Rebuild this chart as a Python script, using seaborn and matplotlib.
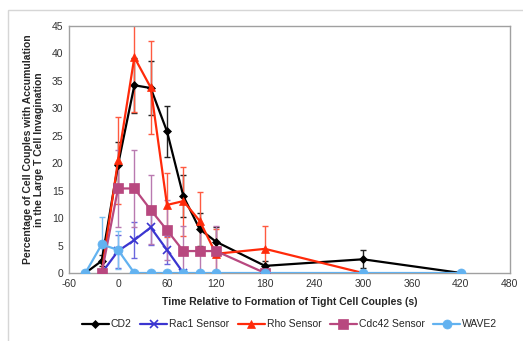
import matplotlib
matplotlib.use("Agg")
import matplotlib.pyplot as plt
import seaborn as sns
import pandas as pd
from matplotlib.patches import Rectangle

# Time points (s) and accumulation percentages per probe
cd2_t = [-40, -20, 0, 20, 40, 60, 80, 100, 120, 180, 300, 420]
cd2_v = [0, 2.2, 19.7, 34.2, 33.7, 25.8, 14.0, 8.0, 5.7, 1.3, 2.5, 0]
cd2_e = [0, 1.0, 4.2, 5.0, 5.0, 4.7, 3.8, 3.0, 2.7, 0.8, 1.6, 0]

rac1_t = [-20, 0, 20, 40, 60, 80]
rac1_v = [0, 4.0, 6.0, 8.3, 4.2, 0]
rac1_e = [0, 3.0, 3.3, 3.2, 2.5, 0]

rho_t = [-20, 0, 20, 40, 60, 80, 100, 120, 180, 300]
rho_v = [0, 20.5, 39.3, 33.8, 12.4, 13.1, 9.5, 3.5, 4.4, 0]
rho_e = [0, 7.9, 10.0, 8.5, 5.8, 6.3, 5.3, 4.5, 4.2, 0]

cdc42_t = [-20, 0, 20, 40, 60, 80, 100, 120, 180]
cdc42_v = [0, 15.4, 15.4, 11.5, 7.8, 4.0, 4.0, 4.0, 0]
cdc42_e = [0, 7.0, 7.0, 6.3, 5.5, 4.5, 4.5, 4.5, 0]

wave2_t = [-40, -20, 0, 20, 40, 60, 80, 100, 120, 180, 300, 420]
wave2_v = [0, 5.2, 4.2, 0, 0, 0, 0, 0, 0, 0, 0, 0]
wave2_e = [0, 5.0, 3.5, 0, 0, 0, 0, 0, 0, 0, 0, 0]

series_names = ["CD2", "Rac1 Sensor", "Rho Sensor", "Cdc42 Sensor", "WAVE2"]
x_ticks = [-60, 0, 60, 120, 180, 240, 300, 360, 420, 480]
y_ticks = [0, 5, 10, 15, 20, 25, 30, 35, 40, 45]

series = [
    (cd2_t, cd2_v, cd2_e),
    (rac1_t, rac1_v, rac1_e),
    (rho_t, rho_v, rho_e),
    (cdc42_t, cdc42_v, cdc42_e),
    (wave2_t, wave2_v, wave2_e),
]
colors = ["#000000", "#3b35d0", "#ff2a0a", "#b8487f", "#62b2f0"]
err_colors = ["#222222", "#6a66dd", "#ff5a40", "#b97ab0", "#7cc0f2"]
markers = ["D", "x", "^", "s", "o"]
msizes = [4.5, 5.5, 6.0, 6.5, 6.5]

frames = []
for name, (t, v, e) in zip(series_names, series):
    frames.append(pd.DataFrame({"time": t, "pct": v, "err": e, "series": name}))
df = pd.concat(frames, ignore_index=True)

sns.set_theme(style="white")
plt.rcParams["font.family"] = ["Liberation Sans", "DejaVu Sans"]
plt.rcParams["axes.unicode_minus"] = False

fig = plt.figure(figsize=(5.23, 3.41), dpi=100)
ax = fig.add_axes([0.132, 0.1994, 0.843, 0.7244])

# Outer chart-area border
fig.patches.append(Rectangle((8 / 523, -0.05), 1.1, 1 - 10 / 341 + 0.05,
                             transform=fig.transFigure, fill=False,
                             edgecolor="#d6d6d6", linewidth=1.0, zorder=0))

for i, name in enumerate(series_names):
    sub = df[df["series"] == name]
    ax.errorbar(sub["time"], sub["pct"], yerr=sub["err"], fmt="none",
                ecolor=err_colors[i], elinewidth=1.0, capsize=2.5,
                capthick=1.0, zorder=2 + i * 0.1)

for i, name in enumerate(series_names):
    sub = df[df["series"] == name]
    sns.lineplot(data=sub, x="time", y="pct", ax=ax, color=colors[i],
                 marker=markers[i], markersize=msizes[i],
                 markeredgecolor=colors[i], markeredgewidth=1.2 if markers[i] == "x" else 0.5,
                 linewidth=1.6, label=name, zorder=3 + i * 0.1,
                 errorbar=None, sort=False)

ax.set_xlim(-60, 480)
ax.set_ylim(0, 45)
ax.set_xticks(x_ticks)
ax.set_yticks(y_ticks)
ax.tick_params(axis="both", labelsize=7.5, length=0, pad=4, colors="#333333")
for sp in ax.spines.values():
    sp.set_color("#a0a0a0")
    sp.set_linewidth(1.0)

ax.set_xlabel("Time Relative to Formation of Tight Cell Couples (s)",
              fontsize=7.5, fontweight="bold", labelpad=6)
ax.set_ylabel("Percentage of Cell Couples with Accumulation\nin the Large T Cell Invagination",
              fontsize=7.5, fontweight="bold", labelpad=6, linespacing=1.1)

ax.legend(loc="upper center", bbox_to_anchor=(0.5, -0.17), ncol=5,
          frameon=False, fontsize=7.5, handlelength=2.6, handletextpad=0.2,
          columnspacing=0.8, borderaxespad=0)

fig.savefig("out.png", dpi=100)
